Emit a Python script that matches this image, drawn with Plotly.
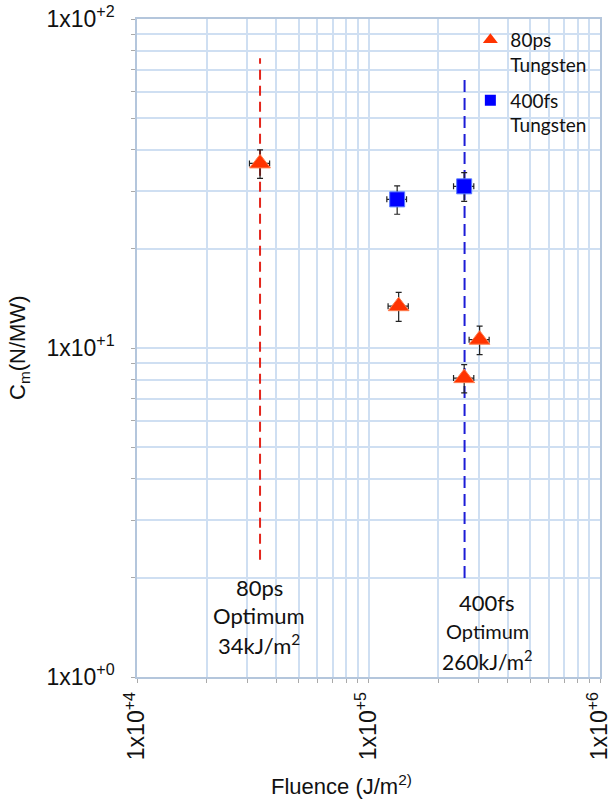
import plotly.graph_objects as go

# ---- data ----
tri_fluence = [34000, 135000, 302000, 259000]
tri_cm = [36.4, 13.4, 10.6, 8.1]
tri_err_x = [3400, 13500, 30000, 26000]
tri_err_y = [3.6, 1.35, 1.05, 0.8]

sq_fluence = [133000, 259000]
sq_cm = [28.3, 31.0]
sq_err_x = [13000, 26000]
sq_err_y = [2.8, 3.1]

opt_80ps_x = [34000, 34000]
opt_80ps_y = [2.27, 76]
opt_400fs_x = [260000, 260000]
opt_400fs_y = [2.0, 66]

x_major = [1e4, 1e5, 1e6]
x_major_labels = ["1x10<sup>+4</sup>", "1x10<sup>+5</sup>", "1x10<sup>+6</sup>"]
y_major = [1, 10, 100]
y_major_labels = ["1x10<sup>+0</sup>", "1x10<sup>+1</sup>", "1x10<sup>+2</sup>"]
x_minor = [k * 10 ** e for e in (4, 5) for k in range(2, 10)]
y_minor = [k * 10 ** e for e in (0, 1) for k in range(2, 10)]

x_ticks = x_major + x_minor
x_text = x_major_labels + [""] * len(x_minor)
y_ticks = y_major + y_minor
y_text = y_major_labels + [""] * len(y_minor)

RED = "#ff3300"
BLUE = "#0000ff"
GRID = "#cfdff2"
AXL = "#b4c6dc"

fig = go.Figure()

fig.add_trace(go.Scatter(x=opt_80ps_x, y=opt_80ps_y, mode="lines",
                         line=dict(color="#e3261c", width=2, dash="10px,6px"),
                         showlegend=False, hoverinfo="skip"))
fig.add_trace(go.Scatter(x=opt_400fs_x, y=opt_400fs_y, mode="lines",
                         line=dict(color="#1c1cd6", width=2, dash="12px,6px"),
                         showlegend=False, hoverinfo="skip"))

fig.add_trace(go.Scatter(
    x=tri_fluence, y=tri_cm, mode="markers",
    marker=dict(symbol="triangle-up", size=18, color=RED, line=dict(color="#ff7a4a", width=1)),
    error_x=dict(type="data", array=tri_err_x, color="#222", thickness=1.2, width=3),
    error_y=dict(type="data", array=tri_err_y, color="#222", thickness=1.2, width=3),
    showlegend=False))
fig.add_trace(go.Scatter(
    x=sq_fluence, y=sq_cm, mode="markers",
    marker=dict(symbol="square", size=15, color=BLUE, line=dict(color="#5a7dff", width=1)),
    error_x=dict(type="data", array=sq_err_x, color="#222", thickness=1.2, width=3),
    error_y=dict(type="data", array=sq_err_y, color="#222", thickness=1.2, width=3),
    showlegend=False))

# legend entries
fig.add_trace(go.Scatter(x=[None], y=[None], mode="markers", name="80ps<br>Tungsten",
                         legendgroup="a",
                         marker=dict(symbol="triangle-up", size=13, color=RED)))
fig.add_trace(go.Scatter(x=[None], y=[None], mode="markers", name="400fs<br>Tungsten",
                         legendgroup="b",
                         marker=dict(symbol="square", size=11, color=BLUE)))

shapes = []
for (x0, x1, y0, y1) in [(0.125, 0.40, 0.067, 0.170),
                         (0.611, 0.892, 0.049, 0.149),
                         (0.717, 0.997, 0.824, 0.998)]:
    shapes.append(dict(type="rect", xref="paper", yref="paper", x0=x0, x1=x1, y0=y0, y1=y1,
                       fillcolor="white", line=dict(width=0), layer="between"))

annotations = [
    dict(text="80ps", x=0.264, y=(677 - 587) / 658),
    dict(text="Optimum", x=0.264, y=(677 - 615) / 658),
    dict(text="34kJ/m<sup>2</sup>", x=0.264, y=(677 - 644) / 658),
]
for a in annotations:
    a.update(xref="paper", yref="paper", showarrow=False, xanchor="center", yanchor="middle",
             font=dict(family="Lato", size=22, color="#111"))
ann2 = [
    dict(text="400fs", x=(487 - 137) / 463, y=(677 - 602) / 658, size=22),
    dict(text="Optimum", x=(487 - 137) / 463, y=(677 - 631) / 658, size=20),
    dict(text="260kJ/m<sup>2</sup>", x=(487 - 137) / 463, y=(677 - 660) / 658, size=21),
]
for a in ann2:
    s = a.pop("size")
    a.update(xref="paper", yref="paper", showarrow=False, xanchor="center", yanchor="middle",
             font=dict(family="Lato", size=s, color="#111"))
annotations += ann2
annotations.append(dict(text="Fluence (J/m<sup>2)</sup>", xref="paper", yref="paper",
                        x=(341 - 137) / 463, y=-(785 - 677) / 658, showarrow=False,
                        xanchor="center", yanchor="middle",
                        font=dict(family="Liberation Sans, Arial", size=22, color="#111")))
annotations.append(dict(text="C<sub>m</sub>(N/MW)", xref="paper", yref="paper",
                        x=-(137 - 19) / 463, y=(677 - 348) / 658, showarrow=False, textangle=-90,
                        xanchor="center", yanchor="middle",
                        font=dict(family="Liberation Sans, Arial", size=22, color="#111")))

fig.update_layout(
    width=613, height=801,
    margin=dict(l=137, r=13, t=19, b=124, autoexpand=False),
    paper_bgcolor="white", plot_bgcolor="white",
    font=dict(family="Liberation Sans, Arial", color="#111"),
    shapes=shapes, annotations=annotations,
    legend=dict(x=0.72, y=0.997, xanchor="left", yanchor="top", valign="top",
                bgcolor="rgba(0,0,0,0)", font=dict(family="Lato", size=19, color="#111"),
                tracegroupgap=8, itemwidth=30),
    xaxis=dict(type="log", range=[4, 6], tickmode="array", tickvals=x_ticks, ticktext=x_text,
               tickangle=-90, tickfont=dict(size=23, color="#111"),
               showgrid=True, gridcolor=GRID, gridwidth=1.5,
               ticks="outside", ticklen=4, tickcolor="#aaa",
               showline=True, linecolor=AXL, linewidth=1.5, mirror=True,
               zeroline=False, automargin=False, ticklabeloverflow="allow"),
    yaxis=dict(type="log", range=[0, 2], tickmode="array", tickvals=y_ticks, ticktext=y_text,
               tickfont=dict(size=23, color="#111"),
               showgrid=True, gridcolor=GRID, gridwidth=1.5,
               ticks="outside", ticklen=4, tickcolor="#aaa",
               showline=True, linecolor=AXL, linewidth=1.5, mirror=True,
               zeroline=False, automargin=False, ticklabelstandoff=12,
               ticklabeloverflow="allow"),
)

# remove the browser's default 8px page margin so the 613x801 figure fills the window
fig.write_html("out.html", config={"displayModeBar": False},
               post_script="document.body.style.margin='0';")
